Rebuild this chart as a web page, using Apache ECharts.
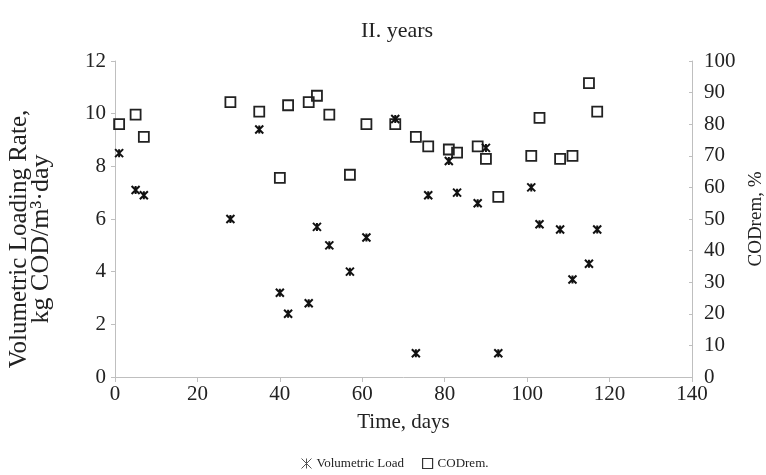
<!DOCTYPE html>
<html>
<head>
<meta charset="utf-8">
<script src="https://cdn.jsdelivr.net/npm/echarts@6/dist/echarts.min.js"></script>
<style>html,body{margin:0;padding:0;background:#fff}#c{width:766px;height:475px}</style>
</head>
<body>
<div id="c"></div>
<script>
const days = [1, 5, 7, 28, 35, 40, 42, 47, 49, 52, 57, 61, 68, 73, 76, 81, 83, 88, 90, 93, 101, 103, 108, 111, 115, 117];
const volumetricLoad = [8.5, 7.1, 6.9, 6.0, 9.4, 3.2, 2.4, 2.8, 5.7, 5.0, 4.0, 5.3, 9.8, 0.9, 6.9, 8.2, 7.0, 6.6, 8.7, 0.9, 7.2, 5.8, 5.6, 3.7, 4.3, 5.6];
const codRem = [80, 83, 76, 87, 84, 63, 86, 87, 89, 83, 64, 80, 80, 76, 73, 72, 71, 73, 69, 57, 70, 82, 69, 70, 93, 84];
const xTicks = [0, 20, 40, 60, 80, 100, 120, 140];
const leftTicks = [0, 2, 4, 6, 8, 10, 12];
const rightTicks = [0, 10, 20, 30, 40, 50, 60, 70, 80, 90, 100];

const FONT = '"Liberation Serif", "DejaVu Serif", serif';
const AXIS_COLOR = '#bfbfbf';
const STAR = 'path://M0,0L10,10M10,0L0,10M5,0L5,10';

const chart = echarts.init(document.getElementById('c'), null, {renderer: 'canvas'});
const axisLbl = {color: '#222', fontFamily: FONT, fontSize: 21};
chart.setOption({
  animation: false,
  backgroundColor: '#fff',
  title: {
    text: 'II. years', left: 356, top: 15,
    textStyle: {fontFamily: FONT, fontSize: 22, fontWeight: 'normal', color: '#222'}
  },
  grid: {left: 115, right: 74, top: 61, bottom: 98, outerBoundsMode: 'none', containLabel: false},
  legend: {
    bottom: 0, left: 296, itemWidth: 10, itemHeight: 10, itemGap: 18,
    textStyle: {fontFamily: FONT, fontSize: 13, color: '#222'},
    data: [
      {name: 'Volumetric Load', icon: STAR, itemStyle: {color: '#555', borderColor: '#555', borderWidth: 1}},
      {name: 'CODrem.', icon: 'rect', itemStyle: {color: '#fff', borderColor: '#333', borderWidth: 1.2}}
    ]
  },
  xAxis: {
    type: 'value', min: xTicks[0], max: xTicks[xTicks.length - 1], interval: 20,
    name: 'Time, days', nameLocation: 'middle', nameGap: 35,
    nameTextStyle: {fontFamily: FONT, fontSize: 21, color: '#222'},
    axisLine: {lineStyle: {color: AXIS_COLOR}},
    axisTick: {length: 5, lineStyle: {color: AXIS_COLOR}},
    axisLabel: Object.assign({margin: 7}, axisLbl),
    splitLine: {show: false}
  },
  yAxis: [
    {
      type: 'value', min: leftTicks[0], max: leftTicks[leftTicks.length - 1], interval: 2,
      name: '{a|Volumetric Loading Rate,}\n{b|kg COD/m³·day}', nameLocation: 'middle', nameGap: 62,
      nameTextStyle: {
        fontFamily: FONT, color: '#222', lineHeight: 22, padding: [0, 40, 0, 0],
        rich: {
          a: {fontFamily: FONT, fontSize: 25, color: '#222', lineHeight: 22},
          b: {fontFamily: FONT, fontSize: 26, color: '#222', lineHeight: 23}
        }
      },
      axisLine: {show: true, lineStyle: {color: AXIS_COLOR}},
      axisTick: {show: true, length: 4, lineStyle: {color: AXIS_COLOR}},
      axisLabel: Object.assign({margin: 9}, axisLbl),
      splitLine: {show: false}
    },
    {
      type: 'value', position: 'right', min: rightTicks[0], max: rightTicks[rightTicks.length - 1], interval: 10,
      name: 'CODrem, %', nameLocation: 'middle', nameGap: 55,
      nameTextStyle: {fontFamily: FONT, fontSize: 19, color: '#222'},
      axisLine: {show: true, lineStyle: {color: AXIS_COLOR}},
      axisTick: {show: true, inside: true, length: 3, lineStyle: {color: AXIS_COLOR}},
      axisLabel: Object.assign({margin: 12}, axisLbl),
      splitLine: {show: false}
    }
  ],
  series: [
    {
      name: 'CODrem.', type: 'scatter', yAxisIndex: 1,
      symbol: 'rect', symbolSize: 10,
      itemStyle: {color: 'rgba(255,255,255,0)', borderColor: '#222', borderWidth: 1.8, opacity: 1},
      data: days.map((d, i) => [d, codRem[i]]), z: 2
    },
    {
      name: 'Volumetric Load', type: 'scatter', yAxisIndex: 0,
      symbol: STAR, symbolSize: 8,
      itemStyle: {color: '#111', borderColor: '#111', borderWidth: 2, opacity: 1},
      data: days.map((d, i) => [d, volumetricLoad[i]]), z: 3
    }
  ]
});
</script>
</body>
</html>
